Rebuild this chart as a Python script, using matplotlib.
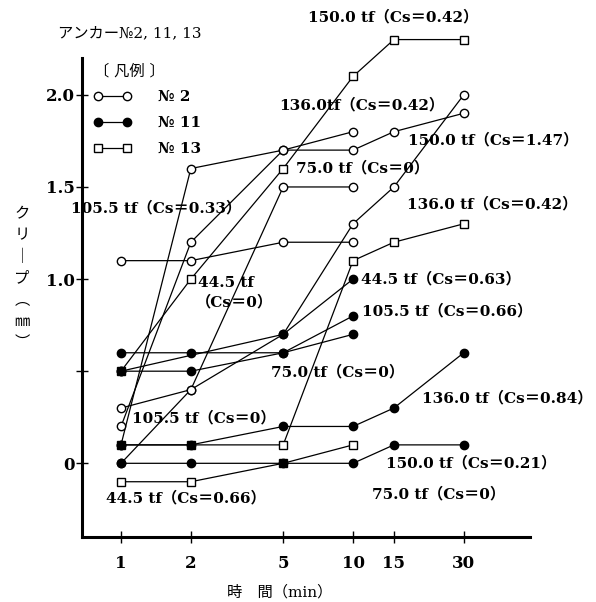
import matplotlib.pyplot as plt
from matplotlib.lines import Line2D
from matplotlib.ticker import NullLocator

plt.rcParams['font.family'] = ['DejaVu Serif', 'Noto Sans CJK JP']

W, H = 596, 602

# ---- data: creep (mm) vs time (min) ----
t4 = [1, 2, 5, 10]
t6 = [1, 2, 5, 10, 15, 30]

# anchor No.2 (open circles)
no2_445 = [1.1, 1.1, 1.2, 1.2]
no2_750 = [0.0, 0.4, 1.5, 1.5]
no2_1055 = [0.1, 1.6, 1.7, 1.8]
no2_1360 = [0.2, 1.2, 1.7, 1.7, 1.8, 1.9]
no2_1500 = [0.3, 0.4, 0.7, 1.3, 1.5, 2.0]

# anchor No.11 (filled circles)
no11_445_t = [1, 5, 10]
no11_445 = [0.5, 0.7, 1.0]
no11_750 = [0.6, 0.6, 0.6, 0.7]
no11_1055 = [0.5, 0.5, 0.6, 0.8]
no11_1360 = [0.1, 0.1, 0.2, 0.2, 0.3, 0.6]
no11_1500 = [0.0, 0.0, 0.0, 0.0, 0.1, 0.1]

# anchor No.13 (open squares)
no13_445 = [-0.1, -0.1, 0.0, 0.1]
no13_1360 = [0.1, 0.1, 0.1, 1.1, 1.2, 1.3]
no13_1500 = [0.5, 1.0, 1.6, 2.1, 2.3, 2.3]

xticks = [1, 2, 5, 10, 15, 30]
yticks = [0, 0.5, 1.0, 1.5, 2.0]
ytick_labels = ['0', '', '1.0', '1.5', '2.0']

# annotation texts with pixel positions (left, centre)
notes = [
    ('150.0 tf（Cs＝0.42）', 308, 17),
    ('136.0tf（Cs＝0.42）', 279, 105),
    ('150.0 tf（Cs＝1.47）', 408, 140),
    ('75.0 tf（Cs＝0）', 296, 168),
    ('105.5 tf（Cs＝0.33）', 71, 208),
    ('136.0 tf（Cs＝0.42）', 407, 204),
    ('44.5 tf', 198, 283),
    ('（Cs＝0）', 196, 302),
    ('44.5 tf（Cs＝0.63）', 361, 279),
    ('105.5 tf（Cs＝0.66）', 362, 311),
    ('75.0 tf（Cs＝0）', 271, 372),
    ('105.5 tf（Cs＝0）', 132, 418),
    ('136.0 tf（Cs＝0.84）', 422, 398),
    ('150.0 tf（Cs＝0.21）', 386, 463),
    ('44.5 tf（Cs＝0.66）', 106, 498),
    ('75.0 tf（Cs＝0）', 372, 494),
]

fig = plt.figure(figsize=(W / 100, H / 100), dpi=100)
ax = fig.add_axes([82 / W, 1 - 537 / H, (530 - 82) / W, (537 - 58) / H])

LW = 0.9


def series(t, y, marker, face, z):
    ax.plot(t, y, color='black', lw=LW, zorder=2, clip_on=False)
    ax.plot(t, y, ls='none', marker=marker, ms=6, mfc=face, mec='black',
            mew=1.0, zorder=z, clip_on=False)


for y in (no2_445, no2_750, no2_1055):
    series(t4, y, 'o', 'white', 3)
for y in (no2_1360, no2_1500):
    series(t6, y, 'o', 'white', 3)

series(t4, no13_445, 's', 'white', 4)
for y in (no13_1360, no13_1500):
    series(t6, y, 's', 'white', 4)

series(no11_445_t, no11_445, 'o', 'black', 5)
for y in (no11_750, no11_1055):
    series(t4, y, 'o', 'black', 5)
for y in (no11_1360, no11_1500):
    series(t6, y, 'o', 'black', 5)

ax.set_xscale('log')
ax.set_xlim(0.679, 57.9)
ax.set_ylim(-0.40, 2.20)
ax.set_xticks(xticks)
ax.set_xticklabels([str(v) for v in xticks], fontweight='bold')
ax.xaxis.set_minor_locator(NullLocator())
ax.set_yticks(yticks)
ax.set_yticklabels(ytick_labels, fontweight='bold')

for side in ('top', 'right'):
    ax.spines[side].set_visible(False)
for side in ('left', 'bottom'):
    ax.spines[side].set_linewidth(2.2)

ax.tick_params(axis='both', direction='inout', length=8, width=1.0,
               labelsize=12)
ax.tick_params(axis='x', pad=9)
ax.tick_params(axis='y', pad=1)

# legend
handles = [
    Line2D([0], [0], color='black', lw=LW, marker='o', ms=6, mfc='white', mec='black'),
    Line2D([0], [0], color='black', lw=LW, marker='o', ms=6, mfc='black', mec='black'),
    Line2D([0], [0], color='black', lw=LW, marker='s', ms=6, mfc='white', mec='black'),
]
leg = ax.legend(handles, ['№ 2', '№ 11', '№ 13'], title='〔 凡例 〕',
                loc='upper left', bbox_to_anchor=(86 / W, 1 - 56 / H),
                bbox_transform=fig.transFigure, frameon=False, numpoints=2,
                fontsize=11, title_fontsize=11, handlelength=2.5,
                handletextpad=1.7, labelspacing=0.78, borderpad=0,
                alignment='left')
for txt in leg.get_texts():
    txt.set_fontweight('bold')

for text, x, y in notes:
    fig.text(x / W, 1 - y / H, text, ha='left', va='center', fontsize=11,
             fontweight='bold')

fig.text(58 / W, 1 - 33 / H, 'アンカー№2, 11, 13', ha='left', va='center',
         fontsize=11)

ylab = '\n'.join(['ク', 'リ', '｜', 'プ', '︵', '㎜', '︶'])
fig.text(22 / W, 1 - 278 / H, ylab, ha='center', va='center', fontsize=11,
         linespacing=1.35, family='Noto Sans CJK JP')

fig.text(280 / W, 1 - 592 / H, '時　間（min）', ha='center', va='center',
         fontsize=11)

fig.savefig('out.png', dpi=100)
